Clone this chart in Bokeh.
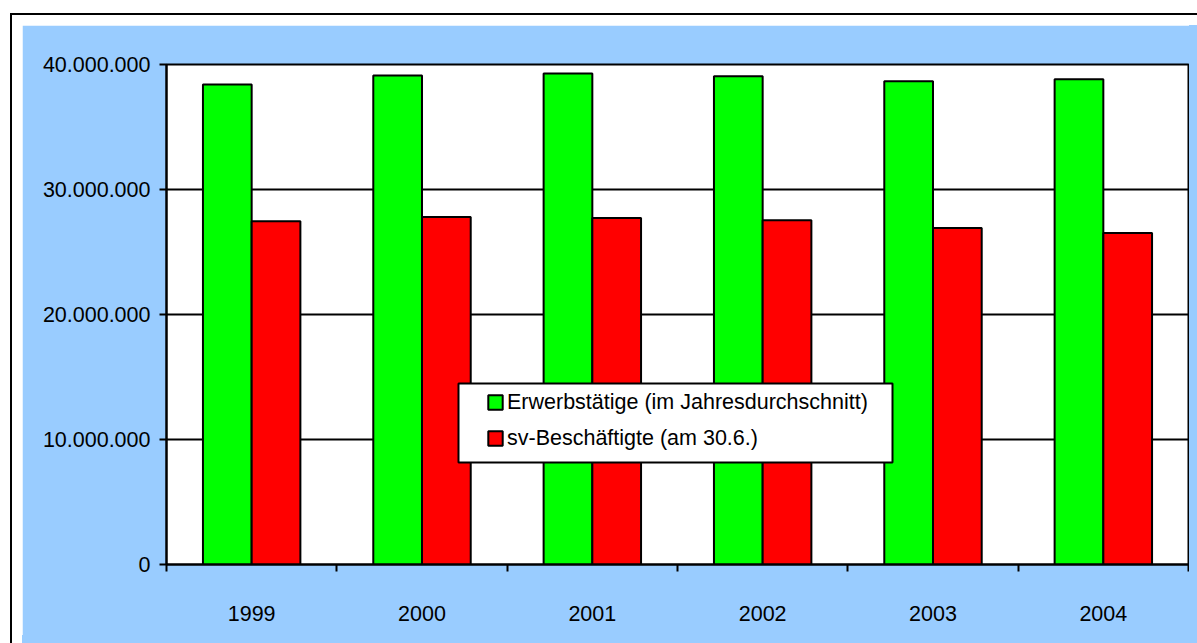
import numpy as np
from bokeh.plotting import figure
from bokeh.models import (ColumnDataSource, Range1d, FixedTicker, Legend, LegendItem,
                          BoxAnnotation)
from bokeh.embed import file_html
from bokeh.resources import INLINE

# ---- data ----
years = ["1999", "2000", "2001", "2002", "2003", "2004"]
erwerbstaetige = [38_400_000, 39_120_000, 39_280_000, 39_060_000, 38_670_000, 38_820_000]
sv_beschaeftigte = [27_470_000, 27_810_000, 27_730_000, 27_540_000, 26_930_000, 26_530_000]
y_ticks = [0, 10_000_000, 20_000_000, 30_000_000, 40_000_000]
y_tick_labels = ["0", "10.000.000", "20.000.000", "30.000.000", "40.000.000"]
series_names = ["Erwerbstätige (im Jahresdurchschnitt)", "sv-Beschäftigte (am 30.6.)"]

FONT = "Liberation Sans"
FONT_SIZE = "21.5px"
BAR_W = 0.286

centers = np.arange(len(years)) + 0.5
src = ColumnDataSource(dict(
    xg=centers - BAR_W / 2, xr=centers + BAR_W / 2,
    g=erwerbstaetige, r=sv_beschaeftigte, year=years))

p = figure(width=1167, height=610, output_backend="svg", toolbar_location=None,
           x_range=Range1d(0, len(years)), y_range=Range1d(0, 40_000_000),
           min_border_left=144, min_border_right=1, min_border_top=39, min_border_bottom=71)
p.styles = {"position": "relative", "left": "22px", "top": "25px",
            "outline": "2px solid black", "outline-offset": "10px",
            "box-shadow": "4px 4px 0 4px #99CCFF"}

p.border_fill_color = "#99CCFF"
p.background_fill_color = "white"
p.outline_line_color = "black"
p.outline_line_width = 2

rg = p.vbar(x="xg", top="g", width=BAR_W, bottom=0, source=src,
            fill_color="#00FF00", line_color="black", line_width=2)
rr = p.vbar(x="xr", top="r", width=BAR_W, bottom=0, source=src,
            fill_color="#FF0000", line_color="black", line_width=2)

# axes
xa = p.xaxis[0]
xa.ticker = FixedTicker(ticks=list(centers), minor_ticks=list(range(len(years) + 1)))
xa.major_label_overrides = {float(c): y for c, y in zip(centers, years)}
xa.major_tick_line_color = None
xa.major_tick_out = 0
xa.major_tick_in = 0
xa.minor_tick_line_color = "black"
xa.minor_tick_line_width = 2
xa.minor_tick_out = 7
xa.minor_tick_in = 0
xa.major_label_standoff = 34
xa.axis_line_color = "black"
xa.axis_line_width = 2

ya = p.yaxis[0]
ya.ticker = FixedTicker(ticks=y_ticks)
ya.major_label_overrides = {t: l for t, l in zip(y_ticks, y_tick_labels)}
ya.major_tick_line_color = "black"
ya.major_tick_line_width = 2
ya.major_tick_out = 7
ya.major_tick_in = 0
ya.minor_tick_line_color = None
ya.major_label_standoff = 9
ya.axis_line_color = "black"
ya.axis_line_width = 2

for ax in (xa, ya):
    ax.major_label_text_font = FONT
    ax.major_label_text_font_size = FONT_SIZE
    ax.major_label_text_color = "black"

p.xgrid.grid_line_color = None
p.ygrid.ticker = FixedTicker(ticks=y_ticks)
p.ygrid.grid_line_color = "black"
p.ygrid.grid_line_width = 2

# legend frame
box = BoxAnnotation(left=436, right=870, top=358, bottom=437,
                    left_units="canvas", right_units="canvas",
                    top_units="canvas", bottom_units="canvas",
                    fill_color="white", fill_alpha=1.0,
                    line_color="black", line_width=2, line_alpha=1.0)
p.add_layout(box)

legend = Legend(items=[LegendItem(label=series_names[0], renderers=[rg]),
                       LegendItem(label=series_names[1], renderers=[rr])],
                location=(320, 113), padding=28, spacing=10,
                glyph_width=18, glyph_height=18, label_height=26,
                label_standoff=3, margin=0,
                label_text_font=FONT, label_text_font_size=FONT_SIZE,
                label_text_color="black",
                border_line_color=None, background_fill_alpha=0)
p.add_layout(legend)

open("out.html", "w").write(file_html(p, INLINE))
